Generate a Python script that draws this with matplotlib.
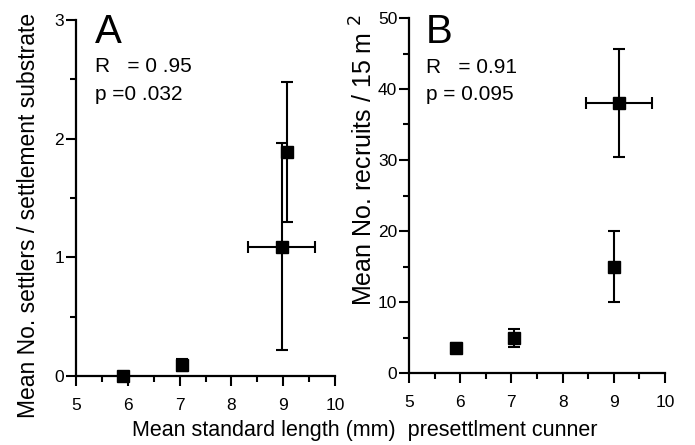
import matplotlib
matplotlib.use("Agg")
import matplotlib.pyplot as plt
from matplotlib.ticker import MultipleLocator

plt.rcParams['font.family'] = ['Liberation Sans', 'DejaVu Sans']

# Panel A data
a_x = [5.9, 7.05, 9.07, 8.97]
a_y = [0.0, 0.09, 1.89, 1.09]
a_xerr = [0.0, 0.0, 0.0, 0.64]
a_yerr = [0.0, 0.05, 0.59, 0.87]

# Panel B data
b_x = [5.92, 7.05, 9.0, 9.1]
b_y = [3.5, 4.9, 15.0, 38.0]
b_xerr = [0.0, 0.0, 0.0, 0.65]
b_yerr = [0.7, 1.3, 5.0, 7.6]

xticks = [5, 6, 7, 8, 9, 10]
a_yticks = [0, 1, 2, 3]
b_yticks = [0, 10, 20, 30, 40, 50]

W, H = 695, 445
fig = plt.figure(figsize=(6.95, 4.45), dpi=100)
axA = fig.add_axes([76/W, 1-376/H, (335-76)/W, (376-20)/H])
axB = fig.add_axes([409/W, 1-373/H, (665-409)/W, (373-18)/H])

def style(ax):
    for s in ['top', 'right']:
        ax.spines[s].set_visible(False)
    for s in ['left', 'bottom']:
        ax.spines[s].set_linewidth(1.6)
    ax.tick_params(which='major', direction='out', length=7, width=1.5, labelsize=12.5)
    ax.tick_params(which='minor', direction='out', length=4, width=1.5)
    ax.tick_params(axis='x', which='major', pad=9)
    ax.tick_params(axis='y', which='major', pad=1.5)
    ax.xaxis.set_minor_locator(MultipleLocator(0.5))

style(axA)
axA.errorbar(a_x, a_y, xerr=a_xerr, yerr=a_yerr, fmt='s', color='black',
             markersize=8.5, capsize=4, elinewidth=1.5, capthick=1.5, clip_on=False)
axA.set_xlim(5, 10)
axA.set_ylim(0, 3)
axA.set_xticks(xticks)
axA.set_yticks(a_yticks)
axA.yaxis.set_minor_locator(MultipleLocator(0.5))
axA.text(0.073, 0.935, 'A', transform=axA.transAxes, fontsize=29, va='baseline', ha='left')
axA.text(0.073, 0.854, 'R   = 0 .95', transform=axA.transAxes, fontsize=15, va='baseline', ha='left')
axA.text(0.073, 0.775, 'p =0 .032', transform=axA.transAxes, fontsize=15, va='baseline', ha='left')

style(axB)
axB.errorbar(b_x, b_y, xerr=b_xerr, yerr=b_yerr, fmt='s', color='black',
             markersize=8.5, capsize=4, elinewidth=1.5, capthick=1.5, clip_on=False)
axB.set_xlim(5, 10)
axB.set_ylim(0, 50)
axB.set_xticks(xticks)
axB.set_yticks(b_yticks)
axB.yaxis.set_minor_locator(MultipleLocator(5))
axB.text(0.066, 0.93, 'B', transform=axB.transAxes, fontsize=29, va='baseline', ha='left')
axB.text(0.066, 0.845, 'R   = 0.91', transform=axB.transAxes, fontsize=15, va='baseline', ha='left')
axB.text(0.066, 0.769, 'p = 0.095', transform=axB.transAxes, fontsize=15, va='baseline', ha='left')

fig.text(29/W, 1-215/H, 'Mean No. settlers / settlement substrate', rotation=90,
         fontsize=16.5, ha='center', va='center')
fig.text(364/W, 1-160/H, 'Mean No. recruits / 15 m $^{2}$', rotation=90,
         fontsize=18, ha='center', va='center')
fig.text(132/W, 1-436/H, 'Mean standard length (mm)  presettlment cunner',
         fontsize=15.5, ha='left', va='baseline')

fig.savefig('out.png', dpi=100)
